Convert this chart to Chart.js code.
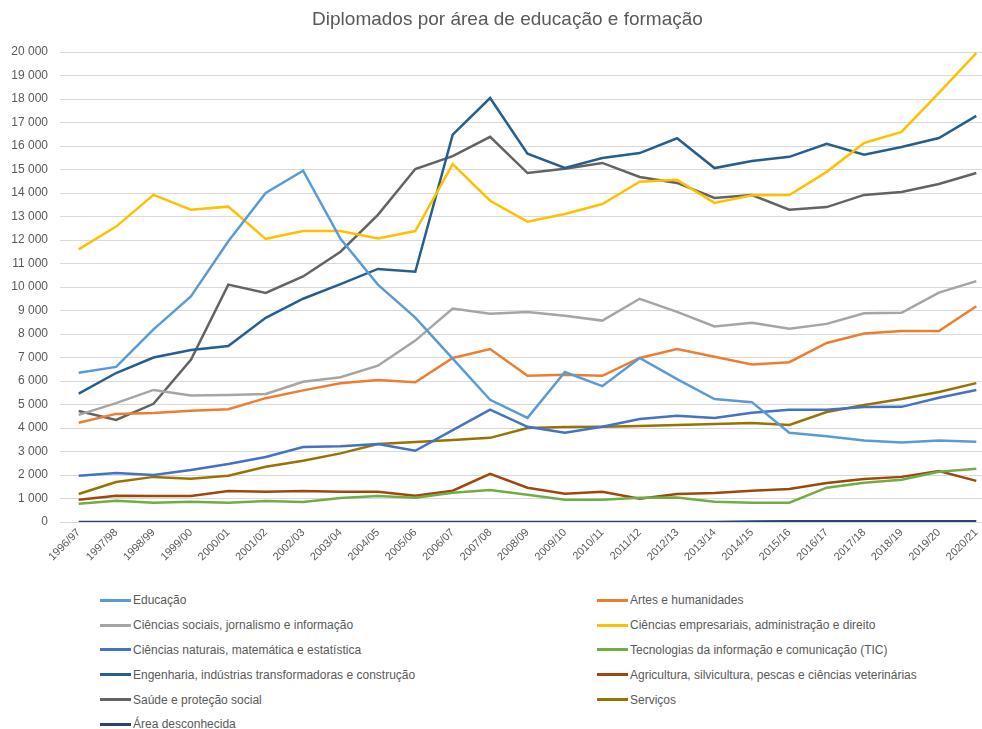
<!DOCTYPE html>
<html>
<head>
<meta charset="utf-8">
<script src="https://cdn.jsdelivr.net/npm/chart.js@4/dist/chart.umd.min.js"></script>
<style>
  html, body { margin: 0; padding: 0; background: #fff; overflow: hidden; width: 982px; height: 729px; }
  #wrap { position: relative; width: 982px; height: 729px; overflow: hidden; }
  #myChart { position: absolute; left: 0; top: 0; }
  #title {
    position: absolute; left: 0; top: 8px; width: 1015px; text-align: center;
    font-family: "Liberation Sans", Arial, sans-serif; font-size: 19px; color: #595959;
  }
  #legend {
    position: absolute; left: 100px; top: 588px;
    display: grid; grid-template-columns: 497px 380px; grid-auto-rows: 24.8px;
    font-family: "Liberation Sans", Arial, sans-serif; font-size: 12px; color: #595959;
  }
  .item { display: flex; align-items: center; white-space: nowrap; }
  .swatch { width: 31px; height: 3px; margin-right: 2px; }
</style>
</head>
<body>
<div id="wrap">
  <canvas id="myChart" width="1000" height="572"></canvas>
  <div id="title">Diplomados por área de educação e formação</div>
  <div id="legend"></div>
</div>
<script>
var years = ["1996/97","1997/98","1998/99","1999/00","2000/01","2001/02","2002/03","2003/04","2004/05","2005/06","2006/07","2007/08","2008/09","2009/10","2010/11","2011/12","2012/13","2013/14","2014/15","2015/16","2016/17","2017/18","2018/19","2019/20","2020/21"]

var educacao = [6350, 6600, 8200, 9600, 11950, 14000, 14950, 12050, 10100, 8700, 6950, 5200, 4430, 6380, 5780, 6980, 6080, 5230, 5100, 3800, 3650, 3470, 3380, 3470, 3420]
var artes = [4220, 4600, 4640, 4730, 4800, 5270, 5600, 5900, 6040, 5950, 6980, 7360, 6220, 6270, 6220, 6980, 7360, 7030, 6700, 6800, 7620, 8020, 8130, 8130, 9180]
var sociais = [4560, 5060, 5620, 5380, 5400, 5450, 5970, 6160, 6650, 7720, 9080, 8860, 8940, 8780, 8570, 9500, 8940, 8320, 8480, 8220, 8430, 8880, 8900, 9760, 10250]
var empresariais = [11600, 12570, 13920, 13290, 13420, 12050, 12380, 12380, 12060, 12380, 15230, 13670, 12780, 13110, 13530, 14480, 14560, 13580, 13900, 13910, 14900, 16130, 16600, 18260, 19950]
var naturais = [1970, 2080, 2000, 2210, 2470, 2770, 3190, 3220, 3320, 3030, 3910, 4780, 4050, 3800, 4050, 4380, 4520, 4430, 4650, 4780, 4780, 4890, 4900, 5290, 5620]
var tic = [780, 900, 820, 860, 820, 890, 850, 1020, 1110, 1030, 1240, 1360, 1160, 950, 950, 1030, 1040, 860, 820, 820, 1460, 1670, 1800, 2140, 2270]
var engenharia = [5460, 6340, 7000, 7320, 7490, 8690, 9500, 10120, 10770, 10650, 16480, 18040, 15670, 15070, 15490, 15700, 16330, 15060, 15360, 15540, 16090, 15630, 15960, 16340, 17280]
var agricultura = [950, 1120, 1110, 1110, 1320, 1290, 1320, 1290, 1290, 1120, 1330, 2050, 1460, 1200, 1290, 990, 1190, 1230, 1330, 1400, 1660, 1830, 1920, 2170, 1750]
var saude = [4720, 4340, 5030, 6900, 10100, 9750, 10450, 11500, 13070, 15020, 15570, 16390, 14850, 15030, 15280, 14680, 14430, 13790, 13910, 13290, 13400, 13920, 14040, 14380, 14850]
var servicos = [1190, 1700, 1920, 1840, 1970, 2350, 2610, 2920, 3320, 3400, 3490, 3580, 4000, 4040, 4050, 4090, 4130, 4170, 4210, 4130, 4680, 4980, 5230, 5530, 5910]
var desconhecida = [0, 0, 0, 0, 0, 0, 0, 0, 0, 0, 0, 0, 0, 0, 0, 0, 0, 0, 20, 30, 30, 30, 30, 30, 30]

function serie(label, data, color){
    return { label: label, data: data, borderColor: color, backgroundColor: color,
             borderWidth: 2.5, pointRadius: 0, tension: 0 }
}

var datasets = [
    serie("Educação", educacao, "#5b9bd5"),
    serie("Artes e humanidades", artes, "#ed7d31"),
    serie("Ciências sociais, jornalismo e informação", sociais, "#a5a5a5"),
    serie("Ciências empresariais, administração e direito", empresariais, "#ffc000"),
    serie("Ciências naturais, matemática e estatística", naturais, "#4472c4"),
    serie("Tecnologias da informação e comunicação (TIC)", tic, "#70ad47"),
    serie("Engenharia, indústrias transformadoras e construção", engenharia, "#255e91"),
    serie("Agricultura, silvicultura, pescas e ciências veterinárias", agricultura, "#9e480e"),
    serie("Saúde e proteção social", saude, "#636363"),
    serie("Serviços", servicos, "#997300"),
    serie("Área desconhecida", desconhecida, "#264478")
]

function fmt(v){
    return String(v).replace(/\B(?=(\d{3})+(?!\d))/g, " ")
}

var ctx = document.getElementById("myChart").getContext("2d")
var chart = new Chart(ctx, {
    type: "line",
    data: { labels: years, datasets: datasets },
    options: {
        responsive: false,
        animation: false,
        layout: { padding: { left: 0, right: 5, top: 52, bottom: 0 } },
        plugins: {
            legend: { display: false },
            tooltip: { enabled: false },
            title: { display: false }
        },
        scales: {
            x: {
                offset: true,
                grid: { display: false, drawTicks: false },
                border: { display: false },
                ticks: {
                    autoSkip: false, maxRotation: 45, minRotation: 45, padding: 4,
                    color: "#595959",
                    font: { family: "'Liberation Sans', Arial, sans-serif", size: 11 }
                },
                afterFit: function(s){ s.height = 50 }
            },
            y: {
                min: 0, max: 20000,
                grid: { color: "#d9d9d9", drawTicks: false },
                border: { display: false },
                ticks: {
                    stepSize: 1000, padding: 12, color: "#595959",
                    font: { family: "'Liberation Sans', Arial, sans-serif", size: 12 },
                    callback: function(v){ return fmt(v) }
                },
                afterFit: function(s){ s.width = 60 }
            }
        }
    }
})

var legend = document.getElementById("legend")
datasets.forEach(function(ds){
    var item = document.createElement("div")
    item.className = "item"
    var sw = document.createElement("span")
    sw.className = "swatch"
    sw.style.background = ds.borderColor
    var txt = document.createElement("span")
    txt.textContent = ds.label
    item.appendChild(sw)
    item.appendChild(txt)
    legend.appendChild(item)
})
</script>
</body>
</html>
